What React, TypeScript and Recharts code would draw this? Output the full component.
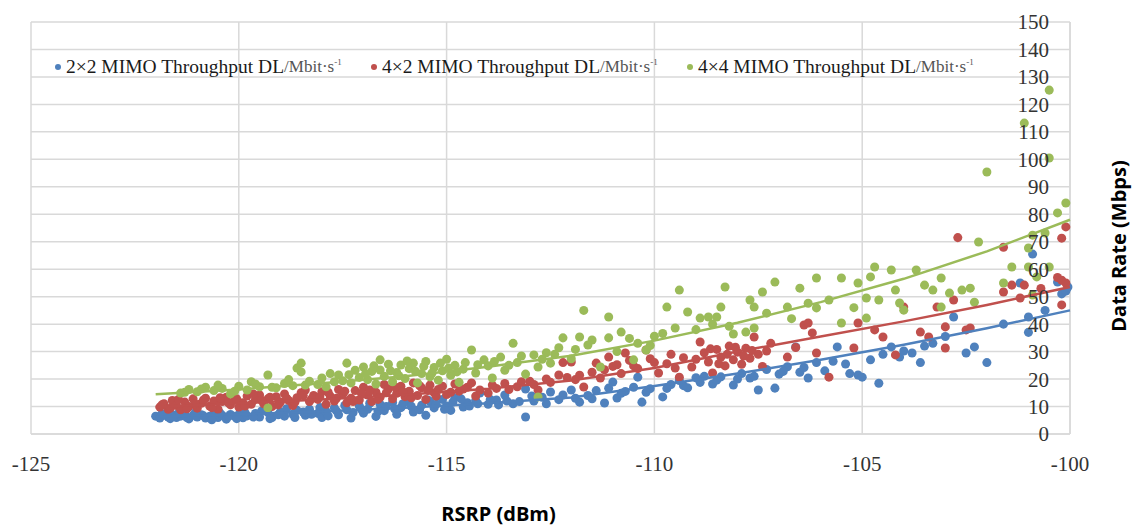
import React from 'react';
import {
  CartesianGrid,
  Legend,
  Scatter,
  ScatterChart,
  XAxis,
  YAxis,
  ZAxis,
} from 'recharts';

const X_TICKS = [-125, -120, -115, -110, -105, -100];
const Y_TICKS = [0, 10, 20, 30, 40, 50, 60, 70, 80, 90, 100, 110, 120, 130, 140, 150];

const SERIES_NAMES = ['2×2 MIMO Throughput DL', '4×2 MIMO Throughput DL', '4×4 MIMO Throughput DL'];

// [RSRP dBm, Mbps]
const BLUE_POINTS: [number, number][] = [
  [-122.0, 6.5], [-121.9, 5.8], [-121.8, 6.8], [-121.7, 6.2], [-121.6, 7.0], [-121.5, 6.0], [-121.4, 6.5],
  [-121.3, 7.2], [-121.2, 5.5], [-121.1, 6.8], [-121.0, 6.2], [-120.9, 7.0], [-120.8, 5.8], [-120.7, 6.5],
  [-120.6, 7.4], [-120.5, 6.0], [-120.4, 6.8], [-120.3, 5.4], [-120.2, 7.1], [-120.1, 6.4], [-120.0, 7.0],
  [-119.9, 5.9], [-119.8, 6.6], [-119.6, 7.5], [-119.5, 6.2], [-119.3, 7.8], [-119.2, 6.0], [-119.0, 8.0],
  [-118.9, 6.5], [-118.7, 7.2], [-118.6, 8.6], [-118.4, 6.8], [-118.3, 9.0], [-118.1, 7.5], [-118.0, 6.0],
  [-117.9, 8.2], [-117.7, 9.5], [-117.6, 7.0], [-117.4, 8.8], [-117.3, 5.8], [-117.1, 10.2], [-117.0, 7.6],
  [-116.9, 9.0], [-116.7, 6.4], [-116.6, 10.8], [-116.5, 8.5], [-116.3, 11.5], [-116.2, 7.2], [-116.1, 9.6],
  [-115.9, 12.0], [-115.8, 8.0], [-115.6, 10.5], [-115.5, 6.8], [-115.4, 11.8], [-115.3, 9.5], [-115.1, 12.6],
  [-115.0, 10.2], [-114.9, 8.6], [-114.8, 13.2], [-114.6, 9.8], [-114.5, 11.4], [-114.3, 12.2], [-114.2, 14.9],
  [-114.0, 10.8], [-113.8, 12.4], [-113.6, 14.2], [-113.4, 11.0], [-113.1, 6.2], [-113.1, 16.4], [-112.9, 12.0],
  [-112.7, 13.4], [-112.5, 15.3], [-112.3, 12.5], [-112.0, 16.0], [-111.8, 11.6], [-111.6, 14.0], [-111.4, 15.8],
  [-111.2, 11.3], [-111.1, 16.7], [-111.0, 18.9], [-110.9, 13.1], [-110.7, 15.5], [-110.5, 17.0], [-110.4, 20.7],
  [-110.3, 11.6], [-110.1, 16.5], [-109.8, 13.5], [-109.6, 18.0], [-109.4, 19.5], [-109.2, 16.8], [-109.0, 20.5],
  [-108.8, 21.0], [-108.6, 18.2], [-108.4, 20.8], [-108.1, 17.8], [-107.9, 22.0], [-107.7, 20.4], [-107.5, 16.0],
  [-107.3, 23.5], [-107.1, 16.7], [-107.0, 21.8], [-106.8, 24.5], [-106.6, 31.7], [-106.5, 22.5], [-106.3, 20.4],
  [-106.1, 26.0], [-105.9, 23.0], [-105.6, 31.7], [-105.4, 25.5], [-105.1, 21.5], [-105.0, 20.7], [-104.8, 27.0],
  [-104.6, 18.5], [-104.3, 31.7], [-104.1, 28.0], [-103.8, 29.5], [-103.6, 26.0], [-103.3, 33.0], [-103.0, 35.5],
  [-102.8, 42.6], [-102.5, 29.5], [-102.3, 31.7], [-102.0, 26.0], [-101.6, 40.0], [-101.2, 55.0], [-101.0, 42.6],
  [-100.9, 65.5], [-101.0, 37.0], [-100.6, 45.0], [-100.3, 55.3], [-100.2, 51.0], [-100.1, 52.0], [-100.05, 53.5],
  [-121.85, 7.4], [-121.65, 5.6], [-121.45, 7.6], [-121.25, 6.0], [-121.05, 7.8], [-120.85, 6.6], [-120.65, 5.2],
  [-120.45, 7.6], [-120.25, 6.4], [-120.05, 5.6], [-119.85, 7.8], [-119.65, 6.2], [-119.45, 8.4], [-119.25, 5.6],
  [-119.05, 7.0], [-118.85, 9.2], [-118.65, 6.0], [-118.45, 8.0], [-118.25, 7.2], [-118.05, 9.6], [-117.85, 6.6],
  [-117.65, 8.4], [-117.45, 10.4], [-117.25, 7.8], [-117.05, 9.0], [-116.85, 11.2], [-116.65, 8.2], [-116.45, 10.0],
  [-116.25, 9.2], [-116.05, 11.0], [-115.85, 10.0], [-115.65, 8.8], [-115.45, 12.4], [-115.25, 10.8], [-115.05, 9.0],
  [-114.85, 11.6], [-114.65, 12.8], [-114.45, 10.2], [-114.25, 11.0], [-113.95, 12.6], [-113.75, 10.6], [-113.55, 12.0],
  [-113.25, 11.8], [-112.95, 13.8], [-112.6, 11.0], [-112.2, 14.2], [-111.9, 13.0], [-111.5, 12.8], [-110.8, 14.8],
  [-110.2, 15.2], [-109.7, 16.6], [-109.3, 17.6], [-108.9, 18.8], [-108.5, 19.6], [-108.0, 20.0], [-107.6, 21.0],
  [-106.9, 22.8], [-106.4, 24.2], [-105.7, 26.5], [-105.3, 22.0], [-104.5, 29.0], [-104.0, 30.2], [-103.5, 32.0],
];

const RED_POINTS: [number, number][] = [
  [-121.9, 9.8], [-121.8, 11.0], [-121.7, 9.0], [-121.6, 12.2], [-121.5, 10.4], [-121.4, 8.8], [-121.3, 11.6],
  [-121.2, 10.0], [-121.1, 12.8], [-121.0, 9.4], [-120.9, 11.2], [-120.8, 13.0], [-120.7, 10.2], [-120.6, 12.0],
  [-120.5, 9.0], [-120.4, 11.8], [-120.3, 13.4], [-120.2, 10.6], [-120.1, 12.4], [-120.0, 9.8], [-119.9, 11.4],
  [-119.8, 13.8], [-119.7, 10.8], [-119.6, 12.6], [-119.5, 14.2], [-119.4, 11.0], [-119.3, 12.8], [-119.2, 10.0],
  [-119.1, 13.6], [-119.0, 11.6], [-118.9, 14.6], [-118.8, 12.2], [-118.7, 10.4], [-118.6, 13.2], [-118.5, 15.0],
  [-118.4, 16.0], [-118.3, 11.8], [-118.2, 14.0], [-118.1, 12.6], [-118.0, 15.4], [-117.9, 10.8], [-117.8, 13.8],
  [-117.7, 12.0], [-117.6, 16.2], [-117.5, 14.4], [-117.4, 11.4], [-117.3, 13.0], [-117.2, 15.8], [-117.1, 12.4],
  [-117.0, 17.0], [-116.9, 14.2], [-116.8, 11.8], [-116.7, 15.2], [-116.6, 13.4], [-116.5, 18.0], [-116.4, 16.4],
  [-116.3, 12.8], [-116.2, 14.8], [-116.1, 17.4], [-116.0, 13.6], [-115.9, 15.6], [-115.8, 18.6], [-115.7, 14.0],
  [-115.6, 16.8], [-115.5, 12.6], [-115.4, 17.8], [-115.3, 15.0], [-115.2, 16.2], [-115.0, 14.4], [-114.8, 18.2],
  [-114.7, 15.6], [-114.5, 17.0], [-114.3, 13.8], [-114.0, 14.9], [-113.8, 16.6], [-113.6, 18.4], [-113.3, 17.2],
  [-113.0, 19.2], [-112.8, 16.0], [-112.6, 20.0], [-112.3, 21.5], [-112.2, 26.0], [-112.0, 26.2], [-111.9, 19.8],
  [-111.7, 17.1], [-111.5, 22.5], [-111.4, 25.8], [-111.2, 23.4], [-111.1, 28.0], [-111.0, 24.6], [-110.8, 22.0],
  [-110.7, 29.5], [-110.6, 26.8], [-110.4, 23.8], [-110.2, 30.6], [-110.1, 27.4], [-109.9, 22.2], [-109.7, 25.6],
  [-109.6, 29.0], [-109.4, 20.7], [-109.3, 27.8], [-109.1, 24.4], [-108.9, 33.5], [-108.8, 29.6], [-108.7, 26.2],
  [-108.6, 22.2], [-108.5, 30.8], [-108.4, 28.0], [-108.3, 24.8], [-108.2, 32.0], [-108.1, 27.0], [-108.0, 29.8],
  [-107.9, 25.4], [-107.8, 31.2], [-107.7, 27.6], [-107.6, 35.3], [-107.5, 29.0], [-107.4, 24.6], [-107.3, 30.2],
  [-106.8, 28.0], [-106.4, 39.7], [-106.3, 40.4], [-106.2, 36.8], [-106.1, 29.5], [-105.8, 20.7], [-105.2, 31.3],
  [-105.1, 40.4], [-104.7, 37.9], [-104.5, 35.3], [-104.2, 28.8], [-104.0, 46.2], [-103.6, 37.1], [-103.4, 35.3],
  [-103.2, 46.2], [-103.0, 39.0], [-103.0, 31.3], [-102.8, 48.8], [-102.7, 71.5], [-102.5, 37.9], [-102.4, 38.6],
  [-101.6, 68.0], [-101.6, 51.7], [-101.4, 54.2], [-101.2, 49.5], [-101.1, 54.2], [-100.7, 53.0], [-100.3, 57.0],
  [-100.2, 56.0], [-100.2, 71.3], [-100.1, 75.4], [-100.2, 47.0], [-100.1, 55.0],
  [-121.85, 10.6], [-121.65, 9.4], [-121.45, 12.6], [-121.25, 9.2], [-121.05, 11.0], [-120.85, 12.4], [-120.65, 9.6],
  [-120.45, 13.2], [-120.25, 11.4], [-120.05, 12.8], [-119.85, 10.2], [-119.65, 14.6], [-119.45, 12.2], [-119.25, 13.4],
  [-119.05, 10.6], [-118.85, 13.0], [-118.65, 11.6], [-118.45, 14.0], [-118.25, 12.8], [-118.05, 13.6], [-117.85, 15.2],
  [-117.65, 13.0], [-117.45, 15.6], [-117.25, 11.8], [-117.05, 14.8], [-116.85, 16.0], [-116.65, 12.6], [-116.45, 15.0],
  [-116.25, 17.2], [-116.05, 15.4], [-115.85, 13.2], [-115.65, 17.6], [-115.45, 15.8], [-115.25, 13.8], [-115.1, 17.4],
  [-114.9, 15.2], [-114.6, 16.4], [-114.4, 18.6], [-114.2, 16.0], [-113.9, 17.8], [-113.5, 16.2], [-113.2, 19.0],
  [-112.9, 18.0], [-112.5, 18.8], [-112.1, 20.6], [-111.8, 21.4], [-111.3, 20.4], [-110.9, 25.2], [-110.5, 24.8],
  [-110.0, 26.0], [-109.5, 24.0], [-109.0, 27.2], [-108.65, 31.0], [-108.45, 25.6], [-108.25, 29.0], [-108.05, 31.6],
  [-107.85, 28.4], [-107.65, 30.4], [-107.2, 33.0], [-106.6, 31.5],
];

const GREEN_POINTS: [number, number][] = [
  [-121.4, 14.9], [-121.2, 16.2], [-121.0, 15.4], [-120.8, 17.0], [-120.6, 15.8], [-120.4, 16.6], [-120.2, 14.6],
  [-120.0, 17.4], [-119.8, 16.0], [-119.7, 19.0], [-119.5, 17.2], [-119.3, 21.5], [-119.3, 9.5], [-119.1, 16.8],
  [-118.9, 18.4], [-118.7, 17.6], [-118.6, 24.0], [-118.5, 25.8], [-118.5, 22.6], [-118.3, 19.2], [-118.1, 18.0],
  [-118.0, 20.4], [-117.9, 17.2], [-117.8, 22.0], [-117.6, 21.5], [-117.5, 19.4], [-117.4, 25.8], [-117.3, 18.6],
  [-117.2, 23.2], [-117.1, 20.6], [-117.0, 24.4], [-116.9, 19.8], [-116.8, 22.8], [-116.7, 18.2], [-116.6, 27.0],
  [-116.6, 23.3], [-116.5, 21.0], [-116.4, 25.4], [-116.3, 19.0], [-116.2, 22.4], [-116.1, 25.1], [-116.0, 20.2],
  [-115.9, 23.8], [-115.8, 25.8], [-115.7, 18.6], [-115.6, 22.0], [-115.5, 26.4], [-115.4, 20.8], [-115.3, 24.2],
  [-115.2, 19.6], [-115.1, 23.0], [-115.0, 27.2], [-114.9, 21.4], [-114.8, 25.0], [-114.7, 18.8], [-114.6, 23.6],
  [-114.4, 30.6], [-114.3, 22.2], [-114.1, 27.0], [-114.0, 24.8], [-113.9, 20.4], [-113.7, 28.0], [-113.6, 23.2],
  [-113.4, 33.0], [-113.3, 26.0], [-113.1, 21.8], [-112.9, 28.8], [-112.8, 24.4], [-112.8, 13.5], [-112.6, 29.6],
  [-112.5, 25.8], [-112.3, 31.4], [-112.2, 35.0], [-112.0, 27.4], [-111.8, 35.3], [-111.7, 45.0], [-111.5, 34.2],
  [-111.3, 24.4], [-111.1, 42.6], [-111.1, 35.0], [-110.9, 30.0], [-110.8, 37.1], [-110.5, 27.0], [-110.4, 33.0],
  [-110.2, 30.6], [-110.0, 35.6], [-109.7, 46.2], [-109.4, 52.4], [-109.2, 44.4], [-109.0, 38.0], [-108.9, 42.2],
  [-108.7, 42.6], [-108.5, 42.6], [-108.4, 46.2], [-108.3, 53.5], [-108.1, 36.4], [-107.8, 37.1], [-107.7, 48.8],
  [-107.6, 46.2], [-107.6, 38.6], [-107.4, 51.7], [-107.1, 55.3], [-106.8, 46.2], [-106.5, 53.1], [-106.1, 56.8],
  [-106.1, 45.9], [-105.8, 48.8], [-105.5, 56.8], [-105.5, 40.4], [-105.1, 55.0], [-104.9, 42.2], [-104.9, 49.5],
  [-104.8, 57.2], [-104.7, 60.8], [-104.6, 48.8], [-104.3, 59.7], [-104.2, 52.4], [-104.1, 47.7], [-104.0, 45.1],
  [-103.7, 59.7], [-103.5, 54.2], [-103.3, 52.4], [-103.1, 56.8], [-103.1, 46.2], [-102.9, 51.3], [-102.6, 52.4],
  [-102.4, 53.1], [-102.3, 48.0], [-102.2, 69.9], [-102.0, 95.4], [-101.6, 55.0], [-101.4, 60.8], [-101.1, 113.2],
  [-101.0, 67.7], [-101.0, 60.8], [-100.9, 50.6], [-100.8, 57.2], [-100.6, 73.2], [-100.5, 125.2], [-100.5, 100.5],
  [-100.5, 60.8], [-100.3, 80.5], [-100.1, 84.1], [-100.9, 72.4],
  [-121.3, 15.2], [-120.9, 16.4], [-120.5, 17.8], [-120.1, 15.6], [-119.6, 18.2], [-119.2, 17.0], [-118.8, 19.8],
  [-118.4, 17.8], [-117.7, 19.0], [-117.35, 21.6], [-116.95, 22.0], [-116.75, 24.8], [-116.35, 23.0], [-116.15, 21.2],
  [-115.95, 26.6], [-115.75, 22.8], [-115.55, 24.6], [-115.35, 22.2], [-115.15, 25.8], [-114.95, 24.0], [-114.75, 22.6],
  [-114.55, 26.0], [-114.25, 25.2], [-113.85, 26.4], [-113.5, 25.0], [-113.2, 28.4], [-112.7, 27.2], [-112.4, 29.0],
  [-111.9, 30.8], [-111.6, 32.4], [-110.6, 34.8], [-110.1, 32.2], [-109.8, 36.6], [-109.5, 38.6], [-108.6, 40.0],
  [-108.2, 39.2], [-107.3, 44.0], [-106.7, 42.0], [-106.3, 47.6], [-105.2, 46.0],
];

// trend lines
const TREND_X = [-122, -120, -118, -116, -114, -112, -110, -108, -106, -104, -102, -100];
const BLUE_TREND = [6.3, 7.2, 8.2, 9.6, 11.2, 13.3, 17.5, 22.0, 27.0, 32.5, 38.5, 45.0];
const RED_TREND = [9.8, 11.2, 12.6, 14.3, 16.5, 19.5, 24.0, 30.0, 35.5, 41.0, 47.0, 53.5];
const GREEN_TREND = [14.5, 16.2, 18.5, 21.0, 24.5, 28.5, 34.0, 40.5, 48.0, 56.5, 66.5, 78.0];

const COLORS = ['#4f81bd', '#c0504d', '#9bbb59'];
const GRID = '#d9d9d9';
const SERIF = '"Liberation Serif", "DejaVu Serif", serif';
const SANS = '"Open Sans", sans-serif';

const toPoints = (pts: [number, number][]) => pts.map(([x, y]) => ({ x, y }));
const toTrend = (ys: number[]) => TREND_X.map((x, i) => ({ x, y: ys[i] }));

const series = [
  { name: SERIES_NAMES[0], color: COLORS[0], points: toPoints(BLUE_POINTS), trend: toTrend(BLUE_TREND) },
  { name: SERIES_NAMES[1], color: COLORS[1], points: toPoints(RED_POINTS), trend: toTrend(RED_TREND) },
  { name: SERIES_NAMES[2], color: COLORS[2], points: toPoints(GREEN_POINTS), trend: toTrend(GREEN_TREND) },
];

function renderLegend(props: any) {
  const payload = (props.payload || []).filter((p: any) => p.type !== 'none');
  return (
    <div style={{ display: 'flex', fontFamily: SERIF }}>
      {payload.map((entry: any) => (
        <div key={entry.value} style={{ width: 316, display: 'flex', alignItems: 'center', whiteSpace: 'nowrap' }}>
          <span
            style={{
              display: 'inline-block',
              width: 6,
              height: 6,
              borderRadius: 3,
              background: entry.color,
              marginRight: 5,
            }}
          />
          <span style={{ fontSize: 19.5, color: '#1a1a1a' }}>{entry.value}</span>
          <span style={{ fontSize: 17, color: '#555' }}>
            /Mbit·s<sup style={{ fontSize: 9 }}>-1</sup>
          </span>
        </div>
      ))}
    </div>
  );
}

const hiddenShape = () => <g />;

export default function App() {
  return (
    <div>
      <style>{'body{margin:0;background:#fff}'}</style>
      <ScatterChart width={1137} height={529} margin={{ top: 22, right: 67, bottom: 0, left: 31 }}>
        <CartesianGrid stroke={GRID} strokeWidth={1.5} />
        <XAxis
          type="number"
          dataKey="x"
          domain={[-125, -100]}
          ticks={X_TICKS}
          height={95}
          tickSize={0}
          tickMargin={22}
          axisLine={{ stroke: GRID, strokeWidth: 1.5 }}
          tick={{ fill: '#333', fontSize: 21, fontFamily: SERIF }}
          label={{
            content: (p: any) => {
              const vb = p.viewBox || {};
              return (
                <text
                  x={vb.x + vb.width / 2 - 52}
                  y={vb.y + 87}
                  textAnchor="middle"
                  fontFamily={SANS}
                  fontWeight="bold"
                  fontSize={20}
                  fill="#000"
                >
                  RSRP (dBm)
                </text>
              );
            },
          }}
        />
        <YAxis
          type="number"
          dataKey="y"
          orientation="right"
          mirror
          domain={[0, 150]}
          ticks={Y_TICKS}
          interval={0}
          tickSize={0}
          tickMargin={21}
          axisLine={{ stroke: GRID, strokeWidth: 1.5 }}
          tick={{ fill: '#333', fontSize: 21, fontFamily: SERIF }}
          label={{
            content: (p: any) => {
              const vb = p.viewBox || {};
              const cx = 1118;
              const cy = vb.y + vb.height / 2 + 18;
              return (
                <text
                  x={cx}
                  y={cy}
                  transform={`rotate(-90, ${cx}, ${cy})`}
                  textAnchor="middle"
                  dominantBaseline="central"
                  fontFamily={SANS}
                  fontWeight="bold"
                  fontSize={20}
                  fill="#000"
                >
                  Data Rate (Mbps)
                </text>
              );
            },
          }}
        />
        <ZAxis range={[46, 46]} />
        <Legend
          layout="horizontal"
          verticalAlign="middle"
          align="center"
          wrapperStyle={{ top: 56, left: 55, width: 1000 }}
          content={renderLegend}
        />
        {series.map((s) => (
          <Scatter
            key={s.name}
            name={s.name}
            data={s.points}
            fill={s.color}
            shape="circle"
            isAnimationActive={false}
          />
        ))}
        {series.map((s) => (
          <Scatter
            key={`${s.name}-trend`}
            name={`${s.name} trend`}
            data={s.trend}
            line={{ stroke: s.color, strokeWidth: 2.5 }}
            lineType="joint"
            shape={hiddenShape}
            legendType="none"
            isAnimationActive={false}
          />
        ))}
      </ScatterChart>
    </div>
  );
}
